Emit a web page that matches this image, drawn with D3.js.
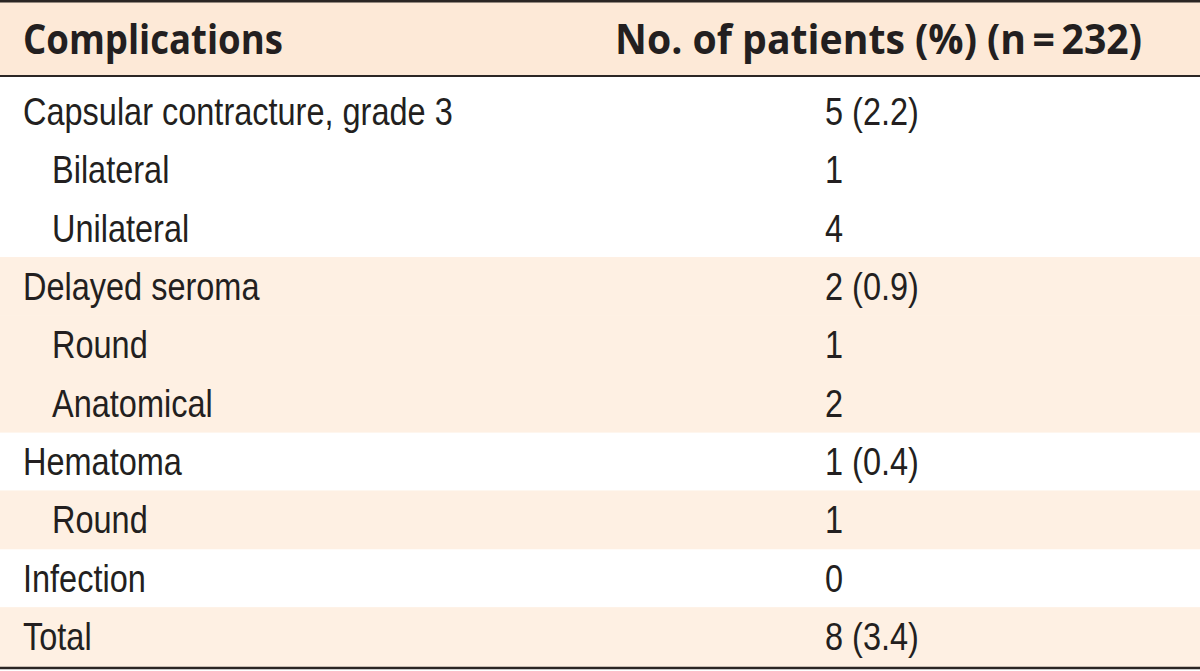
<!DOCTYPE html>
<html>
<head>
<meta charset="utf-8">
<script src="https://cdn.jsdelivr.net/npm/d3@7"></script>
<style>
  html, body { margin: 0; padding: 0; background: #ffffff; }
  svg { display: block; }
</style>
</head>
<body>
<svg id="chart" width="1200" height="671"></svg>
<script>
// ---- data ----
const headers = ["Complications", "No. of patients (%) (n\u2009=\u2009232)"];
const complications = [
  "Capsular contracture, grade 3",
  "Bilateral",
  "Unilateral",
  "Delayed seroma",
  "Round",
  "Anatomical",
  "Hematoma",
  "Round",
  "Infection",
  "Total"
];
const patients = ["5 (2.2)", "1", "4", "2 (0.9)", "1", "2", "1 (0.4)", "1", "0", "8 (3.4)"];
const level = [0, 1, 1, 0, 1, 1, 0, 1, 0, 0];

// ---- drawing ----
const W = 1200, H = 671;
const svg = d3.select("#chart");
const textColor = "#231f20";
const lineColor = "#2b2624";
const headFill = "#fde9d7";
const rowFill = "#fef0e3";
const shadedRows = new Set([3, 4, 5, 7, 9]);

const y = d3.scaleBand()
  .domain(d3.range(complications.length))
  .range([82, 665.5])
  .padding(0);

const x = d3.scaleOrdinal().domain(["label", "value"]).range([23, 825]);
const indent = d3.scaleLinear().domain([0, 1]).range([0, 29]);

// header band
svg.append("rect").attr("x", 0).attr("y", 2).attr("width", W).attr("height", 74).attr("fill", headFill);

// row shading
svg.append("g").selectAll("rect")
  .data(d3.range(complications.length).filter(i => shadedRows.has(i)))
  .join("rect")
  .attr("x", 0)
  .attr("y", i => i === 9 ? y(i) : y(i))
  .attr("width", W)
  .attr("height", i => i === 9 ? 667 - y(i) : y.bandwidth() + 0.5)
  .attr("fill", rowFill);

// rules
const rules = [
  { y: 1.2, w: 2.6 },
  { y: 76, w: 2 },
  { y: 668, w: 2.4 }
];
svg.append("g").selectAll("line").data(rules).join("line")
  .attr("x1", 0).attr("x2", W)
  .attr("y1", d => d.y).attr("y2", d => d.y)
  .attr("stroke", lineColor).attr("stroke-width", d => d.w);

// helper to condense text horizontally to a target width
function fit(sel, targetWidth, refIndex) {
  const nodes = sel.nodes();
  const ref = nodes[refIndex];
  const k = targetWidth / ref.getComputedTextLength();
  sel.each(function () {
    const t = d3.select(this);
    const x0 = +t.attr("x"), y0 = +t.attr("y");
    t.attr("transform", `translate(${x0},${y0}) scale(${k},1) translate(${-x0},${-y0})`);
  });
  return k;
}

// header text
const headG = svg.append("g");
const h1 = headG.append("text")
  .attr("x", 23).attr("y", 54)
  .attr("font-family", "'Open Sans', 'Noto Sans', sans-serif")
  .attr("font-weight", 700)
  .attr("font-size", 41)
  .attr("fill", textColor)
  .text(headers[0]);
fit(h1, 260, 0);
const h2 = headG.append("text")
  .attr("x", 1142).attr("y", 54)
  .attr("text-anchor", "end")
  .attr("font-family", "'Open Sans', 'Noto Sans', sans-serif")
  .attr("font-weight", 700)
  .attr("font-size", 41)
  .attr("fill", textColor)
  .text(headers[1]);
fit(h2, 527, 0);

// body text
const bodyFont = "'Liberation Sans Narrow', 'Arial Narrow', 'Liberation Sans', sans-serif";
const labels = svg.append("g").selectAll("text")
  .data(complications)
  .join("text")
  .attr("x", (d, i) => x("label") + indent(level[i]))
  .attr("y", (d, i) => y(i) + 43)
  .attr("font-family", bodyFont)
  .attr("font-size", 39)
  .attr("fill", textColor)
  .text(d => d);
const k = fit(labels, 430, 0);

const vals = svg.append("g").selectAll("text")
  .data(patients)
  .join("text")
  .attr("x", x("value"))
  .attr("y", (d, i) => y(i) + 43)
  .attr("font-family", bodyFont)
  .attr("font-size", 39)
  .attr("fill", textColor)
  .text(d => d);
vals.each(function () {
  const t = d3.select(this);
  const x0 = +t.attr("x"), y0 = +t.attr("y");
  t.attr("transform", `translate(${x0},${y0}) scale(${k},1) translate(${-x0},${-y0})`);
});
</script>
</body>
</html>
